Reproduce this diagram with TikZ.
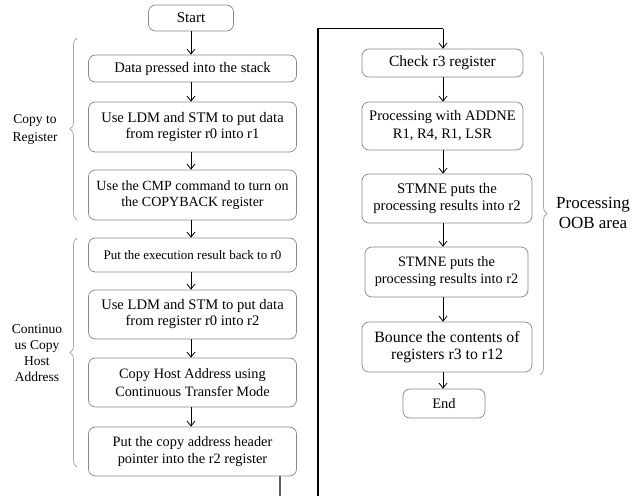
\documentclass[tikz,border=0pt]{standalone}
\usepackage{fontspec}
\setmainfont{Liberation Serif}
\usetikzlibrary{arrows.meta,decorations.pathreplacing}

\definecolor{boxline}{RGB}{135,135,135}
\definecolor{braceline}{RGB}{170,170,170}
\definecolor{feedline}{RGB}{95,95,95}

\newcommand{\fs}[2]{\fontsize{#1}{#2}\selectfont}

\tikzset{
  stepbox/.style={draw=boxline, line width=0.7pt, rounded corners=7pt,
    align=center, inner sep=0pt},
  arr/.style={draw=black, line width=0.8pt,
    -{Straight Barb[length=5pt,width=8pt]}},
  grpbrace/.style={draw=braceline, line width=0.8pt, decorate,
    decoration={brace, amplitude=7pt, raise=0pt}},
  grplabel/.style={align=center, inner sep=0pt},
}

\begin{document}
\begin{tikzpicture}[x=1pt, y=-1pt]
\useasboundingbox (0,0) rectangle (633,496);
\clip (0,0) rectangle (633,496);

% ---------- left column ----------
\node[stepbox, minimum width=85pt, minimum height=26pt, font=\fs{15}{17}] (start) at (191,18) {Start};
\node[stepbox, minimum width=208pt, minimum height=27pt, font=\fs{14.6}{17}] (b1) at (192.5,68.5) {Data pressed into the stack};
\node[stepbox, minimum width=208pt, minimum height=50pt, font=\fs{14.6}{16}] (b2) at (192.5,127) {Use LDM and STM to put data\\from register r0 into r1};
\node[stepbox, minimum width=208pt, minimum height=50pt, font=\fs{14}{15.5}] (b3) at (192.5,195) {Use the CMP command to turn on\\the COPYBACK register};
\node[stepbox, minimum width=208pt, minimum height=34pt, font=\fs{13}{15}] (b4) at (192.5,255) {Put the execution result back to r0};
\node[stepbox, minimum width=208pt, minimum height=49pt, font=\fs{14.6}{16}] (b5) at (192.5,314.5) {Use LDM and STM to put data\\from register r0 into r2};
\node[stepbox, minimum width=208pt, minimum height=49pt, font=\fs{14.3}{18}] (b6) at (192.5,382.5) {Copy Host Address using\\Continuous Transfer Mode};
\node[stepbox, minimum width=208pt, minimum height=49pt, font=\fs{14.3}{17}] (b7) at (192.5,451.5) {Put the copy address header\\pointer into the r2 register};

\foreach \a/\b in {b1/b2, b2/b3, b3/b4, b4/b5, b5/b6, b6/b7}
  \draw[arr] (\a.south -| start) -- (\b.north -| start);
\draw[arr] (start.south) -- (start.south |- b1.north);

% group braces on the left
\coordinate (lb1t) at (77,38);
\coordinate (lb1b) at (77,220);
\coordinate (lb2t) at (77,238);
\coordinate (lb2b) at (77,467);
\draw[grpbrace] (lb1b) -- (lb1t);
\draw[grpbrace] (lb2b) -- (lb2t);
\node[grplabel, font=\fs{13.5}{18}] (lcopy) at (35,129) {Copy to\\Register};
\node[grplabel, font=\fs{13.5}{16}] (lhost) at (37,353) {Continuo\\us Copy\\Host\\Address};

% ---------- right column ----------
\coordinate (rc) at (443,0);
\node[stepbox, minimum width=161pt, minimum height=28pt, font=\fs{15.5}{17}] (chk) at (442.5,63) {Check r3 register};
\node[stepbox, minimum width=161pt, minimum height=48pt, font=\fs{14.5}{18}] (r2) at (442.5,126) {Processing with ADDNE\\R1, R4, R1, LSR};
\node[stepbox, minimum width=170pt, minimum height=49pt, font=\fs{14.7}{17.5}] (r3) at (447,198.5) {STMNE puts the\\processing results into r2};
\node[stepbox, minimum width=163pt, minimum height=50pt, font=\fs{14.3}{17}] (r4) at (446.5,272) {STMNE puts the\\processing results into r2};
\node[stepbox, minimum width=170pt, minimum height=50pt, font=\fs{15.8}{17.5}] (r5) at (447,347) {Bounce the contents of\\registers r3 to r12};
\node[stepbox, minimum width=82pt, minimum height=29pt, font=\fs{14.5}{17}] (end) at (444,403.5) {End};

\foreach \a/\b in {chk/r2, r2/r3, r3/r4, r4/r5, r5/end}
  \draw[arr] (\a.south -| rc) -- (\b.north -| rc);

% group brace on the right
\coordinate (rbt) at (540,52);
\coordinate (rbb) at (540,375);
\draw[grpbrace] (rbt) -- (rbb);
\node[grplabel, font=\fs{17}{20}] (loob) at (593,213) {Processing\\OOB area};

% ---------- hand-over from the left column to the right column ----------
\coordinate (down1) at (280,520);
\coordinate (down2) at (318,520);
\coordinate (topturn) at (318,28.5);
\draw[draw=feedline, line width=1.6pt] (b7.south -| down1) -- (down1);
\draw[line width=1.2pt] (down1) -- (down2) -- (topturn) -- (topturn -| rc);
\draw[arr] (topturn -| rc) -- (chk.north -| rc);

\end{tikzpicture}
\end{document}
